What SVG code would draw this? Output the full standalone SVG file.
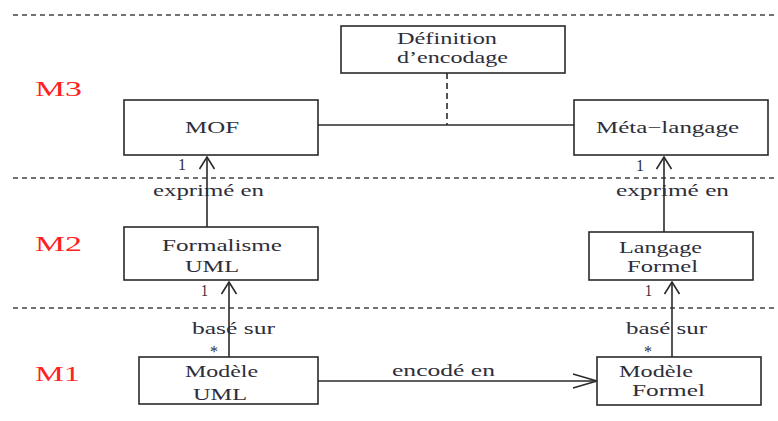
<svg xmlns="http://www.w3.org/2000/svg" width="778" height="421" viewBox="0 0 778 421">
<defs>
<style>
.box{fill:#fff;stroke:#2a2a2a;stroke-width:1.6}
.t{font-family:"Liberation Serif","Times New Roman",serif;font-size:17px;fill:#2e2e3a}
.m{font-family:"Liberation Serif","Times New Roman",serif;font-size:21px;fill:#ff2020}
.sep{stroke:#444;stroke-width:1.3;stroke-dasharray:5,4;fill:none}
.ln{stroke:#2a2a2a;stroke-width:1.6;fill:none}
.dash{stroke:#2a2a2a;stroke-width:1.6;stroke-dasharray:6,4;fill:none}
</style>
<marker id="av" viewBox="0 0 14 16" refX="13" refY="8" markerWidth="14" markerHeight="16" markerUnits="userSpaceOnUse" orient="auto">
<path d="M1,0.5 L13,8 L1,15.5" fill="none" stroke="#2a2a2a" stroke-width="1.6"/>
</marker>
<marker id="ah" viewBox="0 0 26 16" refX="25" refY="8" markerWidth="26" markerHeight="16" markerUnits="userSpaceOnUse" orient="auto">
<path d="M1,1 L25,8 L1,15" fill="none" stroke="#2a2a2a" stroke-width="1.6"/>
</marker>
</defs>
<rect width="778" height="421" fill="#fff"/>
<g id="separators">
<line class="sep" x1="13" y1="15" x2="778" y2="15"/>
<line class="sep" x1="13" y1="178" x2="778" y2="178"/>
<line class="sep" x1="13" y1="308" x2="778" y2="308"/>
</g>
<g id="levels">
<text class="m" x="35" y="96" textLength="47" lengthAdjust="spacingAndGlyphs">M3</text>
<text class="m" x="35" y="251" textLength="47" lengthAdjust="spacingAndGlyphs">M2</text>
<text class="m" x="35" y="381" textLength="45" lengthAdjust="spacingAndGlyphs">M1</text>
</g>
<g id="connectors">
<line class="dash" x1="447" y1="73" x2="447" y2="125"/>
<line class="ln" x1="318" y1="125" x2="574" y2="125"/>
<line class="ln" x1="207" y1="227" x2="207" y2="157" marker-end="url(#av)"/>
<line class="ln" x1="664" y1="232" x2="664" y2="157" marker-end="url(#av)"/>
<line class="ln" x1="229" y1="357" x2="229" y2="282" marker-end="url(#av)"/>
<line class="ln" x1="672" y1="357" x2="672" y2="282" marker-end="url(#av)"/>
<line class="ln" x1="318" y1="381" x2="597" y2="381" marker-end="url(#ah)"/>
<text class="t" x="178" y="170" textLength="8" lengthAdjust="spacingAndGlyphs">1</text>
<text class="t" x="153" y="196" textLength="111" lengthAdjust="spacingAndGlyphs">exprimé en</text>
<text class="t" x="636" y="171" textLength="8" lengthAdjust="spacingAndGlyphs">1</text>
<text class="t" x="616" y="196" textLength="113" lengthAdjust="spacingAndGlyphs">exprimé en</text>
<text class="t" x="201" y="296" textLength="7" lengthAdjust="spacingAndGlyphs">1</text>
<text class="t" x="192" y="334" textLength="83" lengthAdjust="spacingAndGlyphs">basé sur</text>
<text class="t" x="210" y="357" textLength="8" lengthAdjust="spacingAndGlyphs">*</text>
<text class="t" x="645" y="296" textLength="7" lengthAdjust="spacingAndGlyphs">1</text>
<text class="t" x="626" y="334" textLength="81" lengthAdjust="spacingAndGlyphs">basé sur</text>
<text class="t" x="644" y="357" textLength="8" lengthAdjust="spacingAndGlyphs">*</text>
<text class="t" x="392" y="376" textLength="103" lengthAdjust="spacingAndGlyphs">encodé en</text>
</g>
<g id="definition">
<rect class="box" x="341" y="26" width="224" height="47"/>
<text class="t" x="397" y="44" textLength="100" lengthAdjust="spacingAndGlyphs">Définition</text>
<text class="t" x="397" y="63" textLength="111" lengthAdjust="spacingAndGlyphs">d’encodage</text>
</g>
<g id="mof">
<rect class="box" x="124" y="100" width="194" height="55"/>
<text class="t" x="185" y="133" textLength="54" lengthAdjust="spacingAndGlyphs">MOF</text>
</g>
<g id="metalangage">
<rect class="box" x="574" y="100" width="194" height="55"/>
<text class="t" x="596" y="133" textLength="143" lengthAdjust="spacingAndGlyphs">Méta−langage</text>
</g>
<g id="formalisme">
<rect class="box" x="124" y="227" width="194" height="53"/>
<text class="t" x="162" y="251" textLength="120" lengthAdjust="spacingAndGlyphs">Formalisme</text>
<text class="t" x="185" y="272" textLength="54" lengthAdjust="spacingAndGlyphs">UML</text>
</g>
<g id="langage">
<rect class="box" x="589" y="232" width="164" height="48"/>
<text class="t" x="619" y="253" textLength="83" lengthAdjust="spacingAndGlyphs">Langage</text>
<text class="t" x="627" y="272" textLength="71" lengthAdjust="spacingAndGlyphs">Formel</text>
</g>
<g id="modeleuml">
<rect class="box" x="139" y="357" width="179" height="47"/>
<text class="t" x="185" y="377" textLength="73" lengthAdjust="spacingAndGlyphs">Modèle</text>
<text class="t" x="193" y="400" textLength="54" lengthAdjust="spacingAndGlyphs">UML</text>
</g>
<g id="modeleformel">
<rect class="box" x="597" y="357" width="164" height="48"/>
<text class="t" x="619" y="377" textLength="74" lengthAdjust="spacingAndGlyphs">Modèle</text>
<text class="t" x="632" y="396" textLength="73" lengthAdjust="spacingAndGlyphs">Formel</text>
</g>
</svg>
